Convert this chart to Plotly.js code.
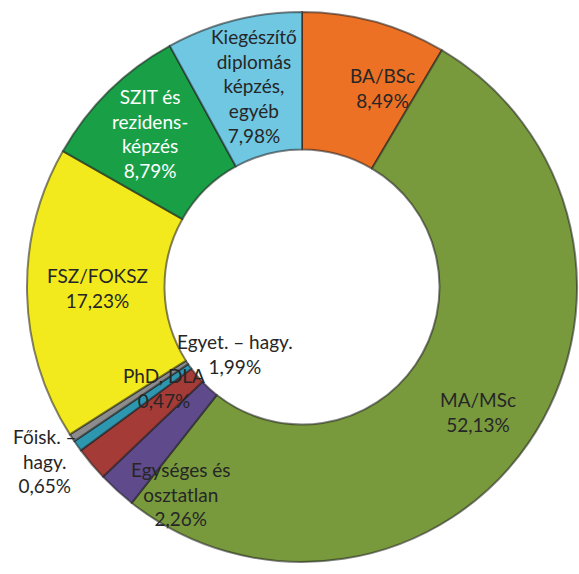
<!DOCTYPE html>
<html><head><meta charset="utf-8">
<script src="https://cdn.plot.ly/plotly-3.0.1.min.js"></script>
<style>html,body{margin:0;padding:0;background:#fff;}#chart{width:579px;height:574px;}</style>
</head><body><div id="chart"></div>
<script>
// Data
const categories = ["BA/BSc", "MA/MSc", "Egységes és osztatlan", "Egyet. – hagy.", "Főisk. – hagy.", "PhD, DLA", "FSZ/FOKSZ", "SZIT és rezidensképzés", "Kiegészítő diplomás képzés, egyéb"];
const values = [8.49, 52.13, 2.26, 1.99, 0.65, 0.47, 17.23, 8.79, 7.98];
// Label line breaks (text only)
const labelLines = [
  ["BA/BSc"],
  ["MA/MSc"],
  ["Egységes és", "osztatlan"],
  ["Egyet. – hagy."],
  ["Főisk. –", "hagy."],
  ["PhD, DLA"],
  ["FSZ/FOKSZ"],
  ["SZIT és", "rezidens-", "képzés"],
  ["Kiegészítő", "diplomás", "képzés,", "egyéb"]
];
// Styles
const colors = ["#EC7124", "#789A3D", "#5F4B8B", "#A43B37", "#2E97B0", "#8C8C8C", "#F2EA1C", "#19A047", "#6FC7E2"];
const labelColors = ["#262626","#262626","#262626","#262626","#262626","#262626","#262626","#FFFFFF","#262626"];
// label centers in pixels (x, y from top)
const labelPos = [[383, 88], [478, 412], [181, 494], [235, 354], [45, 461], [164, 388], [97, 288], [150, 134], [254, 86]];

const W = 579, H = 574;
const fmt = v => v.toFixed(2).replace(".", ",") + "%";

const annotations = categories.map((c, i) => ({
  xref: "paper", yref: "paper",
  x: labelPos[i][0] / W, y: 1 - labelPos[i][1] / H,
  xanchor: "center", yanchor: "middle",
  text: labelLines[i].concat([fmt(values[i])]).join("<br>"),
  showarrow: false,
  font: {family: "Lato, 'Open Sans', sans-serif", size: 19, color: labelColors[i]},
  align: "center"
}));

const cx = 302, cy = 287, R = 275;
const trace = {
  type: "pie",
  labels: categories,
  values: values,
  sort: false,
  direction: "clockwise",
  rotation: 0,
  hole: 0.5,
  textinfo: "none",
  hoverinfo: "label+percent",
  marker: {colors: colors, line: {color: "rgba(30,30,30,0.55)", width: 2}},
  domain: {x: [(cx - R) / W, (cx + R) / W], y: [(H - cy - R) / H, (H - cy + R) / H]},
  showlegend: false
};

Plotly.newPlot("chart", [trace], {
  width: W, height: H,
  margin: {l: 0, r: 0, t: 0, b: 0},
  paper_bgcolor: "#fff",
  showlegend: false,
  annotations: annotations
}, {staticPlot: true});
</script></body></html>
